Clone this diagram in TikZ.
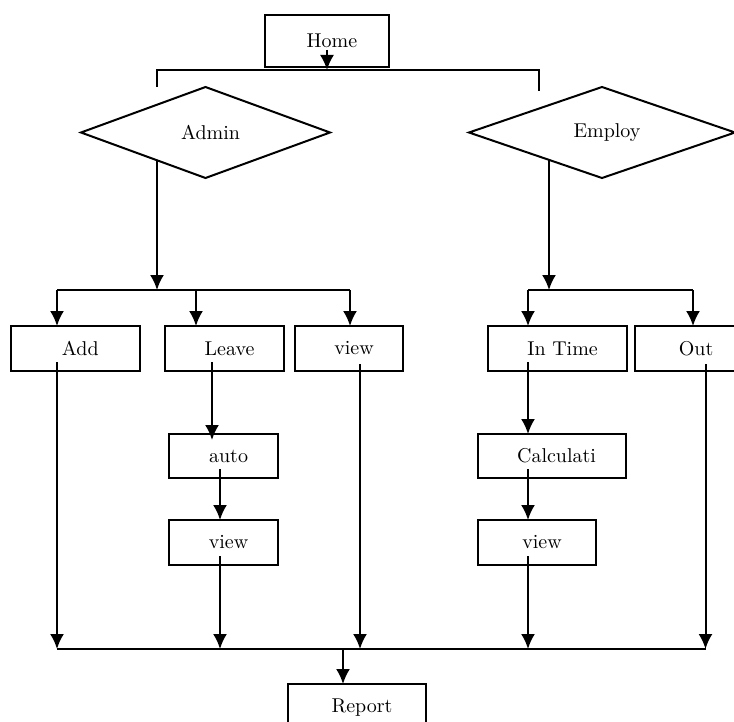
\documentclass[tikz,border=0pt]{standalone}
\usepackage{tikz}
\usetikzlibrary{positioning}
\usetikzlibrary{shapes.geometric}
\usetikzlibrary{arrows.meta}
\tikzset{
	block/.style={draw, rectangle, line width=1pt, inner sep=2pt, outer sep=0pt, minimum height=22.5pt, execute at begin node=\hspace*{5pt}},
	% decision nodes of the top row
	choice/.style={draw, diamond, aspect=3, line width=1pt, inner sep=0pt, outer sep=0pt, minimum height=45.5pt, execute at begin node=\hspace*{5pt}},
}

\begin{document}
\begin{tikzpicture}[x=0.5pt, y=-0.5pt]
	\useasboundingbox (0,0) rectangle (734,722);
	
	\node (home) [block, minimum width=62pt, minimum height=26pt] at (327,41) {Home};
	\node (admin) [choice, minimum width=124.5pt, below=10pt of home, xshift=-60.75pt] {Admin};
	\node (employ) [choice, minimum width=133pt, right=69.5pt of admin] {Employ};
	
	\node (add) [block, minimum width=64.25pt, below=74pt of admin, xshift=-65.1pt] {Add};
	\node (leave) [block, minimum width=59.5pt, right=12.75pt of add] {Leave};
	\node (viewa) [block, minimum width=54pt, right=5.5pt of leave] {view};
	\node (intime) [block, minimum width=69.5pt, right=42.5pt of viewa] {In Time};
	\node (out) [block, minimum width=56pt, right=4pt of intime] {Out};
	
	\node (auto) [block, minimum width=54.5pt, minimum height=22pt, below=31.5pt of leave, xshift=-0.5pt] {auto};
	\node (viewb) [block, minimum width=54.5pt, below=21pt of auto] {view};
	\node (calc) [block, minimum width=74pt, minimum height=22pt, below=31.5pt of intime, xshift=-3pt] {Calculati};
	\node (viewc) [block, minimum width=59.25pt, below=21pt of calc, xshift=-7.25pt] {view};
	
	\node (report) [block, minimum width=69.25pt, minimum height=24pt, below=59.5pt of viewb, xshift=66.75pt] {Report};
	
	\coordinate (hbar) at (327,70);
	\coordinate (tl) at (157,87);
	\coordinate (tr) at (539,91);
	\coordinate (abar) at (157,290);
	\coordinate (ebar) at (549,290);
	\coordinate (lb1) at (57,290);
	\coordinate (lb2) at (196,290);
	\coordinate (lb3) at (350,290);
	\coordinate (rb1) at (528,290);
	\coordinate (rb2) at (693,290);
	\coordinate (la) at (212,440);
	\coordinate (bb1) at (57,649);
	\coordinate (bb2) at (220,649);
	\coordinate (bb3) at (360,649);
	\coordinate (bb4) at (528,649);
	\coordinate (bb5) at (705.5,649);
	\coordinate (bbr) at (343,649);
	
	\draw[line width=1pt] (tl) |- (hbar) -| (tr);
	\draw[line width=1pt] (lb1) -- (lb3);
	\draw[line width=1pt] (rb1) -- (rb2);
	\draw[line width=1pt] (bb1) -- (bb5);
	
	\begin{scope}[line width=1pt, black, ->, >={Latex[length=7.5pt, width=7pt]}]
		
		\draw ([yshift=-4.5pt]home.center) -- (hbar);
		\draw (admin.210 -| abar) -- (abar);
		\draw (employ.207 -| ebar) -- (ebar);
		\draw (lb1) -- (lb1 |- add.north);
		\draw (lb2) -- (lb2 |- leave.north);
		\draw (lb3) -- (lb3 |- viewa.north);
		\draw (rb1) -- (rb1 |- intime.north);
		\draw (rb2) -- (rb2 |- out.north);
		\draw (la |- leave.south) ++(0,-9) -- (la);
		\draw (bb2 |- auto.south) ++(0,-9) -- (bb2 |- viewb.north);
		\draw (rb1 |- intime.south) ++(0,-9) -- (rb1 |- calc.north);
		\draw (rb1 |- calc.south) ++(0,-9) -- (rb1 |- viewc.north);
		\draw (bb1 |- add.south) ++(0,-9) -- (bb1);
		\draw (bb2 |- viewb.south) ++(0,-9) -- (bb2);
		\draw (bb3 |- viewa.south) ++(0,-7) -- (bb3);
		\draw (bb4 |- viewc.south) ++(0,-9) -- (bb4);
		\draw (bb5 |- out.south) ++(0,-7) -- (bb5);
		\draw (bbr) -- (bbr |- report.north);
		
	\end{scope}
	
\end{tikzpicture}
\end{document}
